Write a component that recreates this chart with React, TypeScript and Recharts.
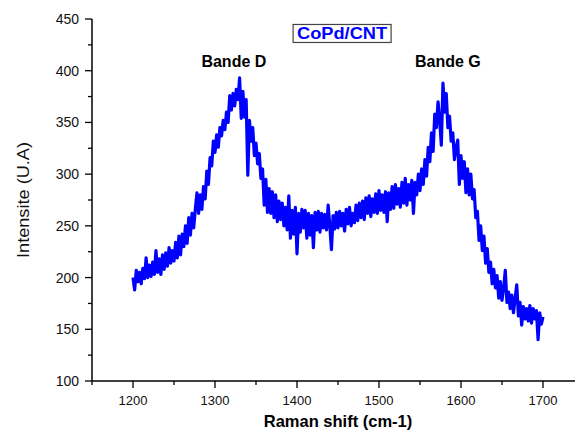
import React from 'react';
import { LineChart, Line, XAxis, YAxis, ReferenceDot, Label } from 'recharts';

// Raman shift sampling (cm-1)
const shiftStart = 1200;
const shiftStep = 2;

// Intensity (U.A), one value every 2 cm-1 from 1200 to 1700
const intensity = [
  200, 188, 207, 196, 205, 194, 209, 199, 219, 200,
  212, 201, 215, 203, 226, 205, 218, 203, 222, 208,
  224, 211, 229, 214, 226, 216, 234, 219, 240, 222,
  242, 230, 250, 233, 258, 241, 262, 248, 266, 282,
  262, 280, 266, 288, 276, 303, 290, 316, 308, 332,
  321, 338, 326, 345, 337, 352, 343, 360, 350, 376,
  362, 378, 366, 382, 372, 393, 354, 380, 355, 372,
  299, 352, 332, 345, 318, 330, 310, 320, 296, 305,
  270, 295, 263, 286, 262, 283, 258, 280, 254, 274,
  256, 272, 250, 268, 246, 279, 238, 265, 242, 268,
  223, 262, 244, 266, 248, 265, 238, 262, 241, 260,
  229, 263, 246, 264, 244, 262, 248, 261, 246, 270,
  250, 227, 260, 247, 263, 248, 264, 250, 262, 245,
  266, 252, 268, 250, 262, 253, 270, 255, 272, 258,
  274, 256, 277, 262, 279, 259, 276, 263, 281, 262,
  284, 265, 280, 263, 283, 254, 282, 266, 288, 267,
  290, 271, 286, 268, 292, 272, 296, 270, 290, 275,
  294, 262, 292, 280, 300, 284, 305, 290, 314, 298,
  326, 312, 340, 322, 358, 345, 370, 352, 328, 388,
  360, 378, 345, 356, 332, 340, 314, 326, 333, 290,
  318, 296, 312, 282, 305, 280, 300, 276, 285, 258,
  264, 236, 250, 226, 240, 214, 228, 205, 215, 194,
  208, 190, 202, 180, 196, 178, 190, 207, 176, 186,
  170, 183, 166, 180, 193, 163, 176, 154, 172, 160,
  170, 158, 173, 156, 170, 160, 168, 140, 166, 155,
  162,
];

const xDomain = [1150, 1750];
const xTicks = [1150, 1200, 1250, 1300, 1350, 1400, 1450, 1500, 1550, 1600, 1650, 1700, 1750];
const xLabelled = [1200, 1300, 1400, 1500, 1600, 1700];
const yDomain = [100, 450];
const yTicks = [100, 125, 150, 175, 200, 225, 250, 275, 300, 325, 350, 375, 400, 425, 450];
const yLabelled = [100, 150, 200, 250, 300, 350, 400, 450];

const sampleTitle = 'CoPd/CNT';
const bandLabels = [
  { name: 'Bande D', shift: 1323, value: 409 },
  { name: 'Bande G', shift: 1584, value: 409 },
];
const titlePos = { shift: 1455, value: 436 };

const data = intensity.map((v, i) => ({ shift: shiftStart + i * shiftStep, intensity: v }));

const FONT = '"Liberation Sans", Arial, sans-serif';

const BottomTick = (props: any) => {
  const { x, y, payload } = props;
  const v = payload.value;
  const major = xLabelled.includes(v);
  return (
    <g>
      <line x1={x} x2={x} y1={y} y2={y + (major ? 7 : 4)} stroke="#000" strokeWidth={1.3} />
      {major && (
        <text x={x} y={y + 24} textAnchor="middle" fontFamily={FONT} fontSize={13} fill="#111">
          {v}
        </text>
      )}
    </g>
  );
};

const TopTick = (props: any) => {
  const { x, y } = props;
  return <line x1={x} x2={x} y1={y} y2={y + 4} stroke="#000" strokeWidth={1.2} />;
};

const LeftTick = (props: any) => {
  const { x, y, payload } = props;
  const v = payload.value;
  const major = yLabelled.includes(v);
  return (
    <g>
      <line x1={x} x2={x - (major ? 7 : 4)} y1={y} y2={y} stroke="#000" strokeWidth={1.3} />
      {major && (
        <text x={x - 13} y={y} dy="0.36em" textAnchor="end" fontFamily={FONT} fontSize={14} fill="#111">
          {v}
        </text>
      )}
    </g>
  );
};

const XTitle = (props: any) => {
  const vb = props.viewBox;
  return (
    <text x={vb.x + vb.width / 2} y={vb.y + 46} textAnchor="middle" fontFamily={FONT} fontWeight="bold" fontSize={16.5} fill="#000">
      Raman shift (cm-1)
    </text>
  );
};

const YTitle = (props: any) => {
  const vb = props.viewBox;
  const cx = 23;
  const cy = vb.y + vb.height / 2;
  return (
    <text x={cx} y={cy} transform={`rotate(-90 ${cx} ${cy})`} textAnchor="middle" dy="0.36em" fontFamily={FONT} fontSize={17} fill="#111" textLength={116} lengthAdjust="spacingAndGlyphs">
      Intensite (U.A)
    </text>
  );
};

const BandShape = (name: string) => (props: any) => {
  const { cx, cy } = props;
  return (
    <text x={cx} y={cy} dy="0.36em" textAnchor="middle" fontFamily={FONT} fontWeight="bold" fontSize={16} fill="#000">
      {name}
    </text>
  );
};

const TitleShape = (props: any) => {
  const { cx, cy } = props;
  return (
    <g>
      <rect x={cx - 49} y={cy - 9} width={98} height={18} fill="#fff" stroke="#444" strokeWidth={1.2} />
      <text x={cx} y={cy} dy="0.37em" textAnchor="middle" fontFamily={FONT} fontWeight="bold" fontSize={16} fill="#0000ff" textLength={90} lengthAdjust="spacingAndGlyphs">
        {sampleTitle}
      </text>
    </g>
  );
};

export default function App() {
  return (
    <div style={{ position: 'absolute', left: 0, top: 0, width: 575, height: 438, overflow: 'hidden', background: '#fff' }}>
      <LineChart width={600} height={438} data={data} margin={{ top: 19, right: 16, bottom: 0, left: 32 }}>
        <XAxis
          xAxisId="top"
          orientation="top"
          type="number"
          dataKey="shift"
          domain={xDomain}
          ticks={xTicks}
          interval={0}
          height={0}
          tickSize={0}
          tickMargin={0}
          tickLine={false}
          tick={<TopTick />}
          axisLine={{ stroke: '#000', strokeWidth: 1.5 }}
          allowDataOverflow
        />
        <XAxis
          type="number"
          dataKey="shift"
          domain={xDomain}
          ticks={xTicks}
          interval={0}
          height={57}
          tickSize={0}
          tickMargin={0}
          tickLine={false}
          tick={<BottomTick />}
          axisLine={{ stroke: '#000', strokeWidth: 1.5 }}
          allowDataOverflow
        >
          <Label content={<XTitle />} />
        </XAxis>
        <YAxis
          type="number"
          domain={yDomain}
          ticks={yTicks}
          interval={0}
          width={60}
          tickSize={0}
          tickMargin={0}
          tickLine={false}
          tick={<LeftTick />}
          axisLine={{ stroke: '#000', strokeWidth: 1.5 }}
          allowDataOverflow
        >
          <Label content={<YTitle />} />
        </YAxis>
        <Line
          type="linear"
          dataKey="intensity"
          stroke="#0000ff"
          strokeWidth={3.2}
          strokeLinejoin="round"
          dot={false}
          isAnimationActive={false}
        />
        {bandLabels.map((b) => (
          <ReferenceDot key={b.name} x={b.shift} y={b.value} r={0} shape={BandShape(b.name)} />
        ))}
        <ReferenceDot x={titlePos.shift} y={titlePos.value} r={0} shape={TitleShape} />
      </LineChart>
    </div>
  );
}
